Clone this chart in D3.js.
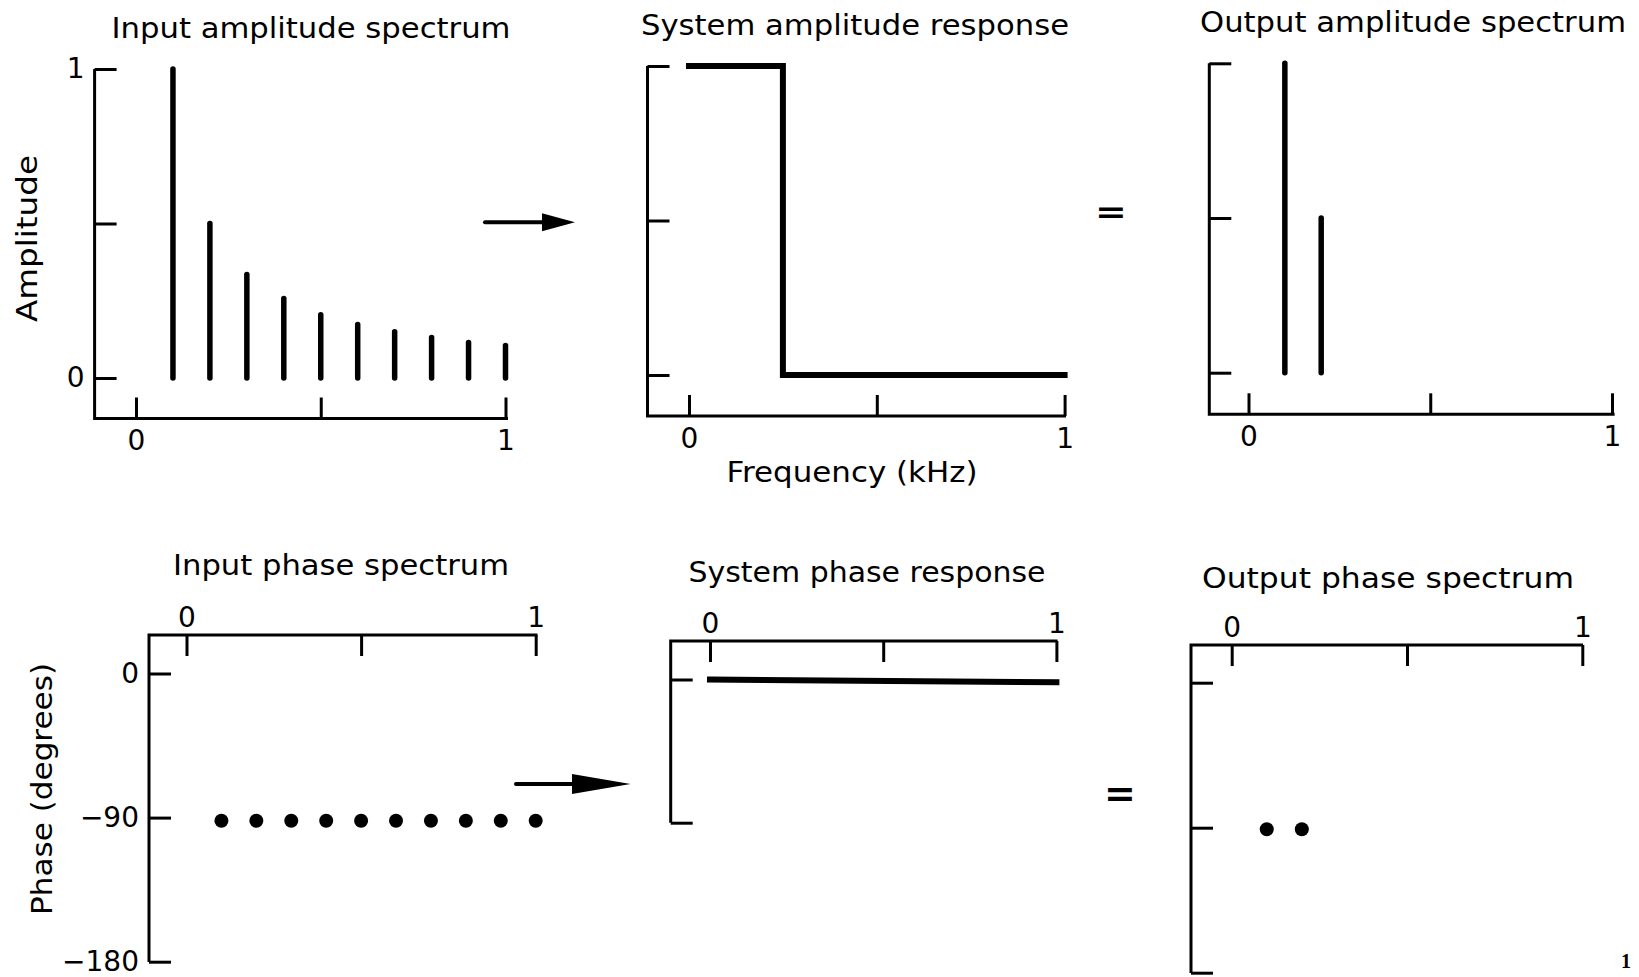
<!DOCTYPE html>
<head>
  <meta charset="utf-8">
  <script src="https://d3js.org/d3.v7.min.js"></script>
  <style>
    body { margin:0; background:#fff; }
    svg { display:block; }
  </style>
</head>
<body>
<script>

  // ---- data ----
  var harmonicFreqs   = [0.1, 0.2, 0.3, 0.4, 0.5, 0.6, 0.7, 0.8, 0.9, 1.0];   // kHz
  var inputAmplitudes = [1.0, 0.5, 0.335, 0.257, 0.205, 0.173, 0.15, 0.131, 0.115, 0.105];
  var inputPhases     = [-92, -92, -92, -92, -92, -92, -92, -92, -92, -92]; // degrees

  var filterFreqs = [0, 0.25, 0.25, 1.0];
  var filterGains = [1, 1, 0, 0];

  var sysPhaseFreqs  = [0, 1.0];
  var sysPhaseValues = [0, -1.7];

  var outputFreqs      = [0.1, 0.2];
  var outputAmplitudes = [1.0, 0.5];
  var outputPhases     = [-91, -91];

  var freqTicks       = [0, 0.5, 1];
  var freqTickLabels  = ["0", "", "1"];
  var ampTicks        = [0, 0.5, 1];
  var ampTickLabels   = ["0", "", "1"];
  var phaseTicks      = [0, -90, -180];
  var phaseTickLabels = ["0", "\u221290", "\u2212180"];

  var font = "'DejaVu Sans', sans-serif";

  var svg = d3.select("body").append("svg")
    .attr("width", 1639)
    .attr("height", 977);

  svg.append("rect").attr("width", 1639).attr("height", 977).attr("fill", "#fff");

  // build one small panel: frame + ticks, returns scales
  function panel(p) {
    var g = svg.append("g");
    var x = d3.scaleLinear().domain([0, 1]).range(p.xr);
    var y = d3.scaleLinear().domain(p.yd).range(p.yr);

    var frame = p.topAxis
      ? "M" + p.right + "," + p.top + "H" + p.left + "V" + p.bottom
      : "M" + p.left + "," + p.top + "V" + p.bottom + "H" + p.right;
    g.append("path")
      .attr("d", frame)
      .attr("fill", "none")
      .attr("stroke", "#000")
      .attr("stroke-width", 3)
      .attr("stroke-linejoin", "miter");

    var xAxis = p.topAxis ? d3.axisTop(x) : d3.axisBottom(x);
    xAxis.tickValues(freqTicks)
      .tickFormat(function(d, i) { return freqTickLabels[i]; })
      .tickSizeInner(-21).tickSizeOuter(0)
      .tickPadding(p.topAxis ? 8 : 12);

    g.append("g")
      .attr("transform", "translate(0," + (p.topAxis ? p.top : p.bottom) + ")")
      .style("font-family", font)
      .style("font-size", "28px")
      .call(xAxis)
      .call(function(a) { a.select(".domain").remove(); })
      .call(function(a) { a.selectAll("line").attr("stroke-width", 3); });

    var yAxis = d3.axisLeft(y)
      .tickValues(p.yTicks)
      .tickFormat(function(d, i) { return p.yLabels ? p.yLabels[i] : ""; })
      .tickSizeInner(-22).tickSizeOuter(0)
      .tickPadding(10);

    g.append("g")
      .attr("transform", "translate(" + p.left + ",0)")
      .style("font-family", font)
      .style("font-size", "28px")
      .call(yAxis)
      .call(function(a) { a.select(".domain").remove(); })
      .call(function(a) { a.selectAll("line").attr("stroke-width", 3); });

    svg.append("text")
      .attr("x", p.titleX)
      .attr("y", p.titleY)
      .attr("text-anchor", "middle")
      .attr("textLength", p.titleW)
      .attr("lengthAdjust", "spacingAndGlyphs")
      .style("font-family", font)
      .style("font-size", "28px")
      .text(p.title);

    return { g: g, x: x, y: y };
  }

  // 1. Input amplitude spectrum
  var p1 = panel({ xr: [136, 505.5], yd: [0, 1], yr: [378, 69],
    left: 94.6, top: 69, bottom: 418.5, right: 508,
    yTicks: ampTicks, yLabels: ampTickLabels,
    title: "Input amplitude spectrum", titleX: 311, titleY: 38, titleW: 399 });

  p1.g.selectAll(".bar").data(harmonicFreqs).enter()
    .append("line")
    .attr("x1", function(d) { return p1.x(d); })
    .attr("x2", function(d) { return p1.x(d); })
    .attr("y1", p1.y(0))
    .attr("y2", function(d, i) { return p1.y(inputAmplitudes[i]); })
    .attr("stroke", "#000")
    .attr("stroke-width", 5.5)
    .attr("stroke-linecap", "round");

  // 2. System amplitude response
  var p2 = panel({ xr: [689, 1064.6], yd: [0, 1], yr: [375, 66],
    left: 647.5, top: 66, bottom: 416, right: 1066,
    yTicks: ampTicks,
    title: "System amplitude response", titleX: 855, titleY: 35, titleW: 428 });

  p2.g.append("path")
    .datum(filterFreqs)
    .attr("d", d3.line()
      .x(function(d) { return p2.x(d); })
      .y(function(d, i) { return p2.y(filterGains[i]); }))
    .attr("fill", "none")
    .attr("stroke", "#000")
    .attr("stroke-width", 6)
    .attr("stroke-linecap", "square")
    .attr("stroke-linejoin", "miter");

  // 3. Output amplitude spectrum
  var p3 = panel({ xr: [1248.5, 1612], yd: [0, 1], yr: [372.7, 63.3],
    left: 1209.3, top: 63.3, bottom: 414.3, right: 1614.6,
    yTicks: ampTicks,
    title: "Output amplitude spectrum", titleX: 1413, titleY: 32, titleW: 426 });

  p3.g.selectAll(".bar").data(outputFreqs).enter()
    .append("line")
    .attr("x1", function(d) { return p3.x(d); })
    .attr("x2", function(d) { return p3.x(d); })
    .attr("y1", p3.y(0))
    .attr("y2", function(d, i) { return p3.y(outputAmplitudes[i]); })
    .attr("stroke", "#000")
    .attr("stroke-width", 5.5)
    .attr("stroke-linecap", "round");

  // 4. Input phase spectrum
  var p4 = panel({ topAxis: true, xr: [186.5, 535.7], yd: [0, -180], yr: [673.5, 961.7],
    left: 149, top: 635, bottom: 962, right: 537.5,
    yTicks: phaseTicks, yLabels: phaseTickLabels,
    title: "Input phase spectrum", titleX: 341, titleY: 575, titleW: 336 });

  p4.g.selectAll("circle").data(harmonicFreqs).enter()
    .append("circle")
    .attr("cx", function(d) { return p4.x(d); })
    .attr("cy", function(d, i) { return p4.y(inputPhases[i]); })
    .attr("r", 7)
    .attr("fill", "#000");

  // 5. System phase response
  var p5 = panel({ topAxis: true, xr: [710, 1056.4], yd: [0, -90], yr: [679.5, 822.7],
    left: 670.7, top: 641, bottom: 822.7, right: 1057.5,
    yTicks: [0, -90],
    title: "System phase response", titleX: 867, titleY: 582, titleW: 357 });

  p5.g.append("path")
    .datum(sysPhaseFreqs)
    .attr("d", d3.line()
      .x(function(d) { return p5.x(d); })
      .y(function(d, i) { return p5.y(sysPhaseValues[i]); }))
    .attr("fill", "none")
    .attr("stroke", "#000")
    .attr("stroke-width", 6)
    .attr("stroke-linecap", "square");

  // 6. Output phase spectrum
  var p6 = panel({ topAxis: true, xr: [1231.7, 1582.3], yd: [0, -180], yr: [682.7, 972.7],
    left: 1191, top: 645, bottom: 973, right: 1583,
    yTicks: phaseTicks,
    title: "Output phase spectrum", titleX: 1388, titleY: 588, titleW: 372 });

  p6.g.selectAll("circle").data(outputFreqs).enter()
    .append("circle")
    .attr("cx", function(d) { return p6.x(d); })
    .attr("cy", function(d, i) { return p6.y(outputPhases[i]); })
    .attr("r", 7)
    .attr("fill", "#000");

  // shared axis titles
  svg.append("text")
    .attr("transform", "translate(37,238.5) rotate(-90)")
    .attr("text-anchor", "middle")
    .attr("textLength", 167)
    .attr("lengthAdjust", "spacingAndGlyphs")
    .style("font-family", font)
    .style("font-size", "28px")
    .text("Amplitude");

  svg.append("text")
    .attr("transform", "translate(51.5,789) rotate(-90)")
    .attr("text-anchor", "middle")
    .attr("textLength", 252)
    .attr("lengthAdjust", "spacingAndGlyphs")
    .style("font-family", font)
    .style("font-size", "29px")
    .text("Phase (degrees)");

  svg.append("text")
    .attr("x", 852)
    .attr("y", 482)
    .attr("text-anchor", "middle")
    .attr("textLength", 251)
    .attr("lengthAdjust", "spacingAndGlyphs")
    .style("font-family", font)
    .style("font-size", "28px")
    .text("Frequency (kHz)");

  // arrows and equals signs between panels
  var arrows = [
    { x1: 485, x2: 542, tip: 575, y: 222.3, h: 9 },
    { x1: 516, x2: 572, tip: 630.5, y: 784, h: 10 }
  ];
  arrows.forEach(function(a) {
    svg.append("line")
      .attr("x1", a.x1).attr("x2", a.x2 + 2)
      .attr("y1", a.y).attr("y2", a.y)
      .attr("stroke", "#000").attr("stroke-width", 4)
      .attr("stroke-linecap", "round");
    svg.append("path")
      .attr("d", "M" + a.x2 + "," + (a.y - a.h) + "L" + a.tip + "," + a.y + "L" + a.x2 + "," + (a.y + a.h) + "Z")
      .attr("fill", "#000");
  });

  var equals = [ { x: 1111, y: 222, s: 0.8 }, { x: 1120, y: 806, s: 1 } ];
  equals.forEach(function(e) {
    svg.append("text")
      .attr("transform", "translate(" + e.x + "," + e.y + ") scale(1," + e.s + ")")
      .attr("text-anchor", "middle")
      .style("font-family", font)
      .style("font-size", "38px")
      .style("font-weight", "bold")
      .text("=");
  });

  // page number at the corner
  svg.append("text")
    .attr("x", 1626)
    .attr("y", 968)
    .attr("text-anchor", "middle")
    .style("font-family", "'Liberation Serif', serif")
    .style("font-size", "20px")
    .style("font-weight", "bold")
    .text("1");

</script>
</body>
